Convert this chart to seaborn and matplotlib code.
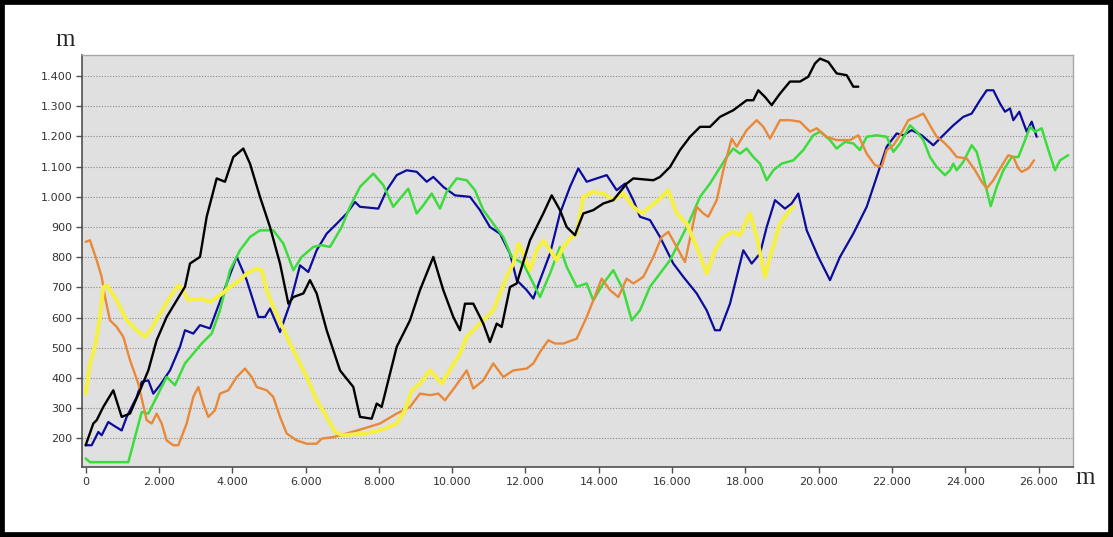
import matplotlib
matplotlib.use('Agg')
import pandas as pd
import matplotlib.pyplot as plt
from matplotlib.ticker import FuncFormatter, MultipleLocator
from matplotlib.patches import Rectangle
import seaborn as sns

# %% profile data (distance m, elevation m)

black_d = [0, 208, 300, 480, 753, 982, 1209, 1482, 1709, 1936, 2209, 2483, 2709, 2846, 3119, 3301, 3574, 3801,
           4028, 4301, 4483, 4756, 5029, 5302, 5530, 5666, 5939, 6120, 6302, 6575, 6939, 7302, 7484, 7803, 7940,
           8076, 8486, 8849, 9121, 9485, 9757, 10030, 10212, 10349, 10576, 10849, 11031, 11214, 11350, 11577,
           11760, 12123, 12486, 12715, 12941, 13124, 13351, 13397, 13578, 13850, 14123, 14396, 14761, 14942,
           15488, 15670, 15943, 16216, 16489, 16762, 17034, 17307, 17670, 18035, 18216, 18351, 18535, 18717,
           18944, 19217, 19490, 19716, 19899, 20035, 20262, 20490, 20764, 20944, 21081]
black_v = [177, 249, 260, 304, 359, 271, 282, 359, 425, 525, 602, 657, 702, 779, 801, 934, 1061, 1050,
           1132, 1160, 1110, 1000, 900, 779, 646, 668, 680, 724, 680, 558, 425, 370, 271, 265, 315,
           304, 503, 591, 691, 801, 691, 602, 558, 646, 646, 580, 519, 580, 569, 701,
           713, 856, 945, 1005, 956, 900, 873, 889, 945, 956, 978, 989, 1044, 1061,
           1055, 1066, 1099, 1155, 1199, 1232, 1232, 1265, 1287, 1320, 1320, 1353, 1331, 1304,
           1342, 1382, 1382, 1398, 1442, 1458, 1447, 1409, 1403, 1365, 1365]

blue_d = [0, 163, 345, 436, 617, 753, 982, 1119, 1392, 1528, 1709, 1845, 2027, 2300, 2573, 2709, 2936, 3119,
          3392, 3574, 3847, 4120, 4393, 4710, 4892, 5029, 5302, 5575, 5848, 6074, 6302, 6575, 6849, 7122,
          7348, 7484, 7984, 8213, 8486, 8759, 9031, 9304, 9485, 9757, 10076, 10486, 10758, 11031, 11304,
          11577, 11760, 12033, 12213, 12396, 12669, 12941, 13214, 13441, 13670, 13943, 14216, 14488, 14715,
          14942, 15124, 15397, 15670, 16033, 16306, 16671, 16944, 17170, 17307, 17580, 17762, 17943, 18172,
          18398, 18581, 18808, 19080, 19263, 19443, 19673, 19989, 20308, 20581, 20944, 21310, 21582, 21855,
          22128, 22309, 22537, 22810, 23127, 23356, 23673, 23946, 24175, 24401, 24584, 24766, 24948, 25084,
          25221, 25310, 25474, 25675, 25812, 25948]
blue_v = [177, 177, 221, 210, 254, 243, 226, 271, 337, 387, 392, 348, 376, 425, 503, 558, 547, 575,
          564, 624, 713, 801, 724, 602, 602, 630, 552, 646, 773, 751, 823, 878, 911, 945,
          983, 967, 961, 1022, 1072, 1088, 1083, 1050, 1066, 1033, 1005, 1000, 956, 900, 878,
          812, 724, 691, 663, 724, 812, 945, 1033, 1094, 1050, 1061, 1072, 1022, 1044,
          989, 934, 923, 867, 779, 735, 680, 624, 558, 558, 646, 735, 823, 779,
          812, 900, 989, 961, 978, 1011, 889, 801, 724, 801, 878, 967, 1066, 1166,
          1210, 1204, 1221, 1204, 1171, 1199, 1237, 1265, 1276, 1320, 1353, 1353, 1309, 1282,
          1293, 1254, 1282, 1216, 1249, 1199]

green_d = [0, 117, 1163, 1345, 1528, 1709, 1936, 2209, 2437, 2709, 2936, 3165, 3438, 3664, 3937, 4210, 4483,
           4756, 5119, 5393, 5666, 5894, 6210, 6439, 6666, 6985, 7211, 7484, 7848, 8120, 8393, 8576, 8802,
           9031, 9212, 9441, 9667, 9850, 10123, 10396, 10622, 10849, 11122, 11394, 11623, 11940, 12213,
           12396, 12669, 12941, 13124, 13397, 13670, 13850, 14123, 14396, 14669, 14897, 15124, 15397, 15670,
           15943, 16216, 16489, 16762, 17034, 17261, 17490, 17670, 17853, 18035, 18216, 18398, 18581, 18762,
           18990, 19307, 19580, 19853, 20035, 20308, 20490, 20717, 20944, 21126, 21310, 21582, 21855, 22037,
           22219, 22492, 22674, 22855, 23037, 23220, 23446, 23583, 23673, 23765, 23946, 24175, 24311, 24448,
           24584, 24693, 24857, 25038, 25267, 25449, 25632, 25768, 25903, 26085, 26266, 26448, 26584, 26811]
green_v = [133, 121, 121, 204, 287, 282, 337, 403, 376, 448, 481, 514, 547, 624, 757, 823, 867,
           889, 889, 845, 757, 801, 834, 840, 834, 900, 967, 1033, 1077, 1039, 967, 994, 1027,
           945, 972, 1011, 961, 1017, 1061, 1055, 1022, 956, 911, 867, 801, 779, 713,
           668, 746, 834, 768, 702, 713, 657, 713, 757, 691, 591, 624, 702, 746,
           790, 856, 923, 1000, 1044, 1088, 1132, 1160, 1143, 1160, 1132, 1110, 1055, 1088,
           1110, 1121, 1155, 1204, 1216, 1188, 1160, 1182, 1177, 1155, 1199, 1204, 1199, 1149,
           1177, 1237, 1216, 1188, 1132, 1099, 1072, 1088, 1110, 1088, 1116, 1171, 1149, 1088,
           1022, 969, 1033, 1088, 1132, 1132, 1188, 1232, 1216, 1227, 1155, 1088, 1121, 1138]

orange_d = [0, 117, 300, 436, 527, 663, 845, 1027, 1209, 1436, 1664, 1800, 1936, 2073, 2209, 2392, 2528,
            2755, 2936, 3073, 3209, 3346, 3528, 3664, 3891, 4120, 4347, 4529, 4666, 4939, 5119, 5302, 5484,
            5757, 6030, 6302, 6439, 6757, 7122, 7575, 8030, 8486, 8849, 9121, 9394, 9621, 9803, 10076,
            10396, 10576, 10849, 11122, 11394, 11668, 12033, 12213, 12396, 12622, 12805, 13032, 13397,
            13670, 13850, 14079, 14306, 14533, 14761, 14942, 15215, 15488, 15716, 15897, 16125, 16352,
            16535, 16671, 16851, 16988, 17217, 17397, 17626, 17762, 18035, 18308, 18490, 18672, 18944,
            19217, 19490, 19762, 19945, 20218, 20490, 20854, 21081, 21310, 21536, 21719, 21855, 22037,
            22219, 22446, 22674, 22855, 23037, 23220, 23401, 23583, 23765, 24039, 24266, 24448, 24584,
            24766, 24948, 25174, 25310, 25449, 25539, 25721, 25876]
orange_v = [851, 856, 790, 735, 668, 591, 569, 536, 459, 381, 260, 249, 282, 249, 193, 177, 177,
            249, 337, 370, 315, 271, 293, 348, 359, 403, 431, 403, 370, 359, 337, 271, 216,
            193, 182, 182, 199, 204, 216, 232, 249, 282, 304, 348, 343, 348, 326, 370,
            425, 365, 392, 448, 403, 425, 431, 448, 486, 525, 514, 514, 530,
            602, 657, 729, 691, 668, 729, 713, 735, 801, 867, 884, 834, 784,
            889, 967, 945, 934, 989, 1088, 1193, 1166, 1221, 1254, 1232, 1193, 1254,
            1254, 1249, 1216, 1227, 1199, 1188, 1188, 1204, 1143, 1105, 1100, 1155, 1171,
            1204, 1254, 1265, 1276, 1237, 1199, 1182, 1160, 1132, 1127, 1088, 1050, 1028,
            1055, 1094, 1138, 1132, 1094, 1083, 1094, 1121]

yellow_d = [0, 117, 254, 390, 480, 573, 845, 1119, 1392, 1618, 1800, 2027, 2300, 2528, 2663, 2800, 3119,
            3392, 3664, 3937, 4210, 4393, 4666, 4802, 4939, 5119, 5302, 5575, 5848, 6030, 6302, 6575, 6802,
            7029, 7575, 8030, 8486, 8712, 8895, 9121, 9394, 9713, 9986, 10212, 10396, 10667, 10941, 11122,
            11304, 11487, 11668, 11804, 11940, 12123, 12305, 12486, 12669, 12851, 13032, 13260, 13397,
            13578, 13850, 14123, 14396, 14669, 14942, 15170, 15397, 15670, 15897, 16125, 16398, 16671,
            16944, 17170, 17397, 17670, 17853, 18126, 18308, 18535, 18672, 18944, 19217, 19307]
yellow_v = [348, 448, 503, 602, 701, 707, 657, 591, 558, 536, 564, 613, 668, 707, 691, 657, 663,
            652, 674, 701, 724, 746, 762, 757, 691, 635, 586, 514, 448, 403, 326, 271, 221,
            210, 216, 226, 249, 293, 359, 381, 425, 381, 436, 481, 536, 569, 602, 624,
            680, 735, 779, 845, 812, 757, 823, 856, 823, 790, 834, 867, 878,
            1000, 1017, 1011, 989, 1011, 967, 945, 967, 994, 1022, 945, 911, 834,
            746, 823, 867, 884, 873, 945, 867, 735, 801, 911, 956, 967]

# name, distances, elevations, colour, width (drawn in this order)
profiles = [('blue', blue_d, blue_v, '#0c0c9c', 1.6),
            ('green', green_d, green_v, '#3ddc3d', 1.8),
            ('orange', orange_d, orange_v, '#e8893a', 1.7),
            ('yellow', yellow_d, yellow_v, '#f6f040', 2.8),
            ('black', black_d, black_v, '#000000', 1.7)]

# %% plot

sns.set_theme(style='whitegrid')
plt.rcParams['font.family'] = ['DejaVu Sans']

fig = plt.figure(figsize=(11.13, 5.37), dpi=100)
ax = fig.add_axes([0.0737, 0.1304, 0.8904, 0.7672])
ax.set_facecolor('#e0e0e0')

for name, d, v, col, lw in profiles:
    df = pd.DataFrame({'dist': d, 'elev': v})
    sns.lineplot(data=df, x='dist', y='elev', color=col, lw=lw, sort=False, estimator=None, ax=ax)

ax.set_xlim(-100, 26940)
ax.set_ylim(105, 1470)
ax.xaxis.set_major_locator(MultipleLocator(2000))
ax.yaxis.set_major_locator(MultipleLocator(100))
ax.set_yticks(range(200, 1401, 100))
fmt = FuncFormatter(lambda val, pos: f'{int(round(val)):,}'.replace(',', '.'))
ax.xaxis.set_major_formatter(fmt)
ax.yaxis.set_major_formatter(fmt)
ax.set_xlabel('')
ax.set_ylabel('')

ax.xaxis.grid(False)
ax.yaxis.grid(True, ls=(0, (1, 1.5)), color='#8a8a8a', lw=0.8)
ax.tick_params(axis='both', direction='out', length=4, width=1, color='#505050',
               labelsize=8, labelcolor='#333333', left=True, bottom=True, pad=3)

for s in ['left', 'bottom']:
    ax.spines[s].set_color('#505050')
    ax.spines[s].set_linewidth(1.2)
for s in ['top', 'right']:
    ax.spines[s].set_color('#a8a8a8')
    ax.spines[s].set_linewidth(1.0)

fig.text(65 / 1113, 1 - 40 / 537, 'm', family='Liberation Serif', size=18, ha='center', va='center')
fig.text(1085 / 1113, 1 - 478 / 537, 'm', family='Liberation Serif', size=18, ha='center', va='center')

fig.add_artist(Rectangle((0, 0), 1, 1, transform=fig.transFigure, fill=False, ec='black', lw=7))

plt.savefig('out.png', dpi=100)
